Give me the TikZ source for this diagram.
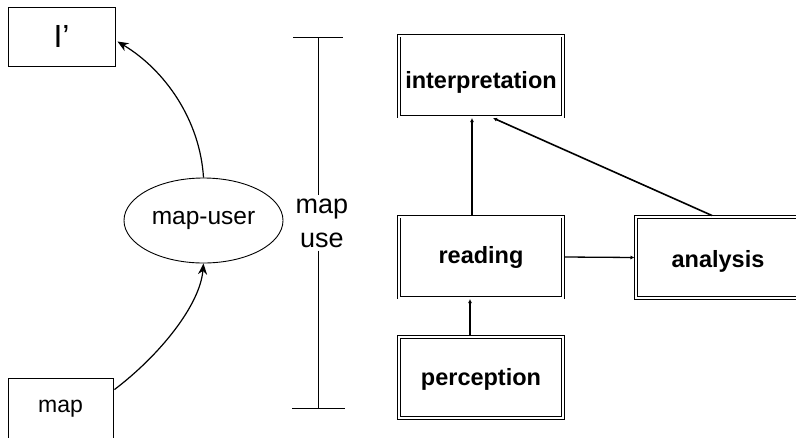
\documentclass[tikz,border=0pt]{standalone}
\usepackage{fontspec}
\setmainfont{Liberation Sans}
\usetikzlibrary{shapes.geometric,arrows.meta,calc}

\newcommand{\lowered}[2]{\raisebox{-#1}[\height][\depth]{#2}}

\begin{document}
\begin{tikzpicture}[x=1pt,y=-1pt,
  plain/.style={draw, line width=0.9pt, inner sep=0pt, font=\fontsize{23}{27}\selectfont},
  dbl/.style={draw, line width=0.85pt, double, double distance=2pt, inner sep=0pt,
    outer sep=1.5pt, minimum width=164pt, minimum height=81pt,
    font=\fontsize{23.5}{27}\selectfont\bfseries},
  bigarrow/.style={line width=1.2pt, -{Stealth[length=11pt,width=9pt]}},
  link/.style={line width=1.6pt, -{Latex[length=4pt,width=4pt]}},
  bar/.style={line width=0.8pt},
]
\clip (0,0) rectangle (796,437);
\fill[white] (0,0) rectangle (796,437);

% left column: image, user, map
\node[plain, minimum width=107pt, minimum height=59pt,
      font=\fontsize{32}{36}\selectfont] (ip) at (61.5,36.5) {I'};
\node[plain, minimum width=105pt, minimum height=62pt] (map) at (60.5,409) {map};
\node[plain, ellipse, minimum width=159pt, minimum height=85pt,
      font=\fontsize{24.5}{28}\selectfont] (user) at (203.5,220.5) {map-user};

\draw[bigarrow] ($(map.north east)+(1,12)$) .. controls (160,355) and (200,305) .. (user.south);
\draw[bigarrow] (user.north) .. controls (200,120) and (165,70) .. ($(ip.east)+(2,5)$);

% bracket labelled "map use"
\coordinate (bt) at (318,37);
\coordinate (bb) at (318,408);
\node[font=\fontsize{27}{34}\selectfont, align=center, inner sep=3pt] (mu) at (322,223) {map\\use};
\draw[bar] (bt) -- (bt |- mu.north);
\draw[bar] (bb |- mu.south) -- (bb);
\draw[bar] ($(bt)+(-25,0)$) -- ($(bt)+(25,0)$);
\draw[bar] ($(bb)+(-26,0)$) -- ($(bb)+(27,0)$);

% right column: stages of map use
\node[dbl] (interp) at (481,76) {\lowered{6pt}{interpretation}};
\node[dbl] (read) at (481,257) {reading};
\node[dbl] (anal) at (718,257.5) {\lowered{4pt}{analysis}};
\node[dbl] (perc) at (481,377.5) {\lowered{2pt}{perception}};

\draw[link] ($(perc.north)+(-11,0)$) -- ($(read.south)+(-11,0)$);
\draw[link] ($(read.north)+(-9,0)$) -- ($(interp.south)+(-9,0)$);
\draw[link, line width=1.3pt] (read.east) -- (anal.west);
\draw[link] ($(anal.north)+(-6,0)$) -- ($(interp.south)+(12,0)$);
\end{tikzpicture}
\end{document}
